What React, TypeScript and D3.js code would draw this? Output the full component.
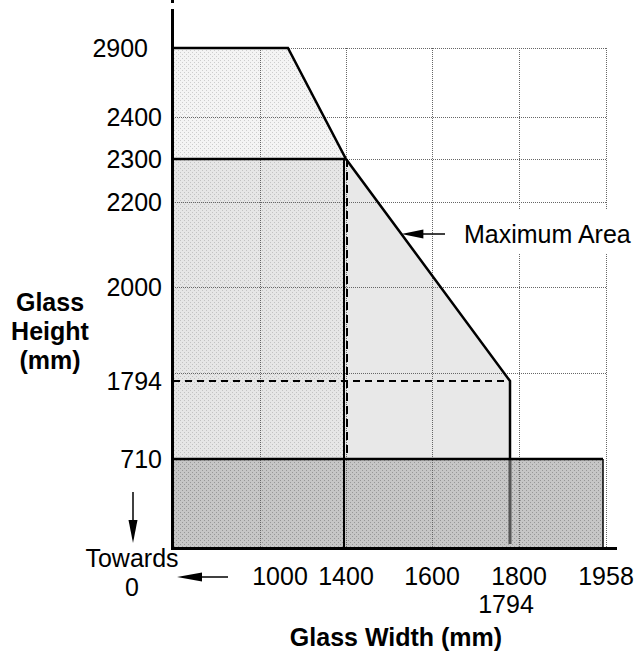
import React from "react";
import * as d3 from "d3";

// chart values
const xTickValues = [1000, 1400, 1600, 1800, 1958];
const xTickLabels = ["1000", "1400", "1600", "1800", "1958"];
const yTickValues = [2900, 2400, 2300, 2200, 2000, 1794, 710];
const yTickLabels = ["2900", "2400", "2300", "2200", "2000", "1794", "710"];
const yGridValues = [2900, 2400, 2300, 2200, 2000, 1800];
const maxAreaWidth = [0, 1130, 1400, 1794, 1794];
const maxAreaHeight = [2900, 2900, 2300, 1794, 710];
const midPanel = [1400, 2300]; // width, height
const lowPanel = [1958, 710]; // width, height
const cornerSize = 1794;

const FONT = "'Liberation Sans', Arial, Helvetica, sans-serif";
const FS = 25;

export default function App() {
  const width = 636;
  const height = 652;

  // the axes are schematic, so the scales are piecewise
  const x = d3
    .scaleLinear()
    .domain([0, 1000, 1400, 1600, 1794, 1800, 1958])
    .range([173, 260, 346, 432, 510, 519, 606]);
  const y = d3
    .scaleLinear()
    .domain([0, 710, 1794, 1800, 2000, 2200, 2300, 2400, 2900])
    .range([548, 459, 381, 373, 287, 202, 159, 117, 48]);

  const pts: [number, number][] = maxAreaWidth.map((w, i) => [w, maxAreaHeight[i]]);
  const line = d3
    .line<[number, number]>()
    .x((d) => x(d[0]))
    .y((d) => y(d[1]));

  const fullArea = line([...pts, [cornerSize, 0], [0, 0]]) + "Z";
  const upperArea = line([pts[0], pts[1], pts[2], [0, midPanel[1]]]) + "Z";

  // arrow tip for the "Maximum Area" callout, on the diagonal edge
  const labelY = y(2200) + 32;
  const p0 = [x(pts[2][0]), y(pts[2][1])];
  const p1 = [x(pts[3][0]), y(pts[3][1])];
  const t = (labelY - p0[1]) / (p1[1] - p0[1]);
  const tipX = p0[0] + t * (p1[0] - p0[0]);

  const xLabelShift: Record<number, number> = { 1000: 20 };
  const yLabelShift: Record<number, number> = { 2900: -14 };

  return (
    <svg
      width={width}
      height={height}
      style={{ position: "absolute", left: 0, top: 0, background: "#fff" }}
      fontFamily={FONT}
    >
      <defs>
        <pattern id="pLight" width={4} height={4} patternUnits="userSpaceOnUse">
          <rect width={4} height={4} fill="#f4f4f4" />
          <rect x={0} y={0} width={1} height={1} fill="#cdcdcd" />
          <rect x={2} y={2} width={1} height={1} fill="#cdcdcd" />
        </pattern>
        <pattern id="pMid" width={4} height={4} patternUnits="userSpaceOnUse">
          <rect width={4} height={4} fill="#e6e6e6" />
          <rect x={0} y={0} width={1} height={1} fill="#c2c2c2" />
          <rect x={2} y={2} width={1} height={1} fill="#c2c2c2" />
        </pattern>
        <pattern id="pDark" width={4} height={4} patternUnits="userSpaceOnUse">
          <rect width={4} height={4} fill="#c6c6c6" />
          <rect x={0} y={0} width={1} height={1} fill="#979797" />
          <rect x={2} y={2} width={1} height={1} fill="#979797" />
        </pattern>
      </defs>

      {/* fills */}
      <path d={fullArea} fill="#e8e8e8" />
      <path d={upperArea} fill="url(#pLight)" />
      <rect
        x={x(0)}
        y={y(midPanel[1])}
        width={x(midPanel[0]) - x(0)}
        height={y(0) - y(midPanel[1])}
        fill="url(#pMid)"
      />
      <rect
        x={x(0)}
        y={y(lowPanel[1])}
        width={x(lowPanel[0]) - 3 - x(0)}
        height={y(0) - y(lowPanel[1])}
        fill="url(#pDark)"
      />

      {/* grid */}
      <g stroke="#666" strokeWidth={1} strokeDasharray="1,1" fill="none">
        {yGridValues.map((v) => (
          <line key={"h" + v} x1={x(0)} x2={x(1958)} y1={y(v) + 0.5} y2={y(v) + 0.5} />
        ))}
        {xTickValues.map((v) => (
          <line key={"v" + v} x1={x(v) + 0.5} x2={x(v) + 0.5} y1={y(2900)} y2={y(0)} />
        ))}
      </g>

      {/* callout box hides grid behind the label */}
      <rect x={x(1600) + 20} y={y(2200) + 8} width={width} height={44} fill="#fff" />

      {/* outlines */}
      <path
        d={line(pts) ?? ""}
        fill="none"
        stroke="#000"
        strokeWidth={2.5}
        strokeLinejoin="miter"
      />
      <line
        x1={x(cornerSize)}
        x2={x(cornerSize)}
        y1={y(lowPanel[1])}
        y2={y(0) - 4}
        stroke="#555"
        strokeWidth={3}
      />
      <line
        x1={x(0)}
        x2={x(midPanel[0])}
        y1={y(midPanel[1])}
        y2={y(midPanel[1])}
        stroke="#000"
        strokeWidth={2.5}
      />
      <line
        x1={x(midPanel[0]) - 2}
        x2={x(midPanel[0]) - 2}
        y1={y(midPanel[1])}
        y2={y(0)}
        stroke="#000"
        strokeWidth={2}
      />
      <line
        x1={x(midPanel[0]) + 1}
        x2={x(midPanel[0]) + 1}
        y1={y(midPanel[1])}
        y2={y(lowPanel[1])}
        stroke="#000"
        strokeWidth={2}
        strokeDasharray="8,5"
      />
      <line
        x1={x(0)}
        x2={x(cornerSize)}
        y1={y(cornerSize)}
        y2={y(cornerSize)}
        stroke="#000"
        strokeWidth={1.8}
        strokeDasharray="7,5"
      />
      <line
        x1={x(0)}
        x2={x(lowPanel[0]) - 3}
        y1={y(lowPanel[1])}
        y2={y(lowPanel[1])}
        stroke="#000"
        strokeWidth={2.5}
      />
      <line
        x1={x(lowPanel[0]) - 3}
        x2={x(lowPanel[0]) - 3}
        y1={y(lowPanel[1])}
        y2={y(0)}
        stroke="#000"
        strokeWidth={1.5}
      />

      {/* axes */}
      <line x1={x(0) - 0.5} x2={x(0) - 0.5} y1={0} y2={3} stroke="#000" strokeWidth={3} />
      <line x1={x(0) - 0.5} x2={x(0) - 0.5} y1={9} y2={y(0) + 1.5} stroke="#000" strokeWidth={3} />
      <line x1={x(0) - 2} x2={x(1958) + 11} y1={y(0) + 0.5} y2={y(0) + 0.5} stroke="#000" strokeWidth={3} />

      {/* y tick labels */}
      <g fontSize={FS} textAnchor="end" fill="#000">
        {yTickValues.map((v, i) => (
          <text key={v} x={x(0) - 11 + (yLabelShift[v] ?? 0)} y={y(v) + 9}>
            {yTickLabels[i]}
          </text>
        ))}
      </g>

      {/* x tick labels */}
      <g fontSize={FS} textAnchor="middle" fill="#000">
        {xTickValues.map((v, i) => (
          <text key={v} x={x(v) + (xLabelShift[v] ?? 0)} y={y(0) + 37}>
            {xTickLabels[i]}
          </text>
        ))}
        <text x={x(cornerSize) - 4} y={y(0) + 65}>
          {cornerSize}
        </text>
      </g>

      {/* origin note */}
      <g fontSize={FS} textAnchor="middle" fill="#000">
        <text x={132} y={567}>Towards</text>
        <text x={132} y={596}>0</text>
      </g>
      <line x1={133} x2={133} y1={492} y2={522} stroke="#000" strokeWidth={1.5} />
      <path d="M128.5,520 L137.5,520 L133,543 Z" fill="#000" />
      <line x1={200} x2={228} y1={577} y2={577} stroke="#000" strokeWidth={1.5} />
      <path d="M202,572.5 L202,581.5 L177,577 Z" fill="#000" />

      {/* callout */}
      <line x1={tipX + 20} x2={x(1600) + 13} y1={labelY} y2={labelY} stroke="#000" strokeWidth={1.5} />
      <path
        d={`M${tipX},${labelY} L${tipX + 22},${labelY - 4.5} L${tipX + 22},${labelY + 4.5} Z`}
        fill="#000"
      />
      <text x={x(1600) + 32} y={labelY + 9} fontSize={FS} fill="#000">
        Maximum Area
      </text>

      {/* axis titles */}
      <g fontSize={FS} fontWeight="bold" textAnchor="middle" fill="#000">
        <text x={50} y={311}>Glass</text>
        <text x={50} y={340}>Height</text>
        <text x={50} y={369}>(mm)</text>
        <text x={396} y={646}>Glass Width (mm)</text>
      </g>
    </svg>
  );
}
